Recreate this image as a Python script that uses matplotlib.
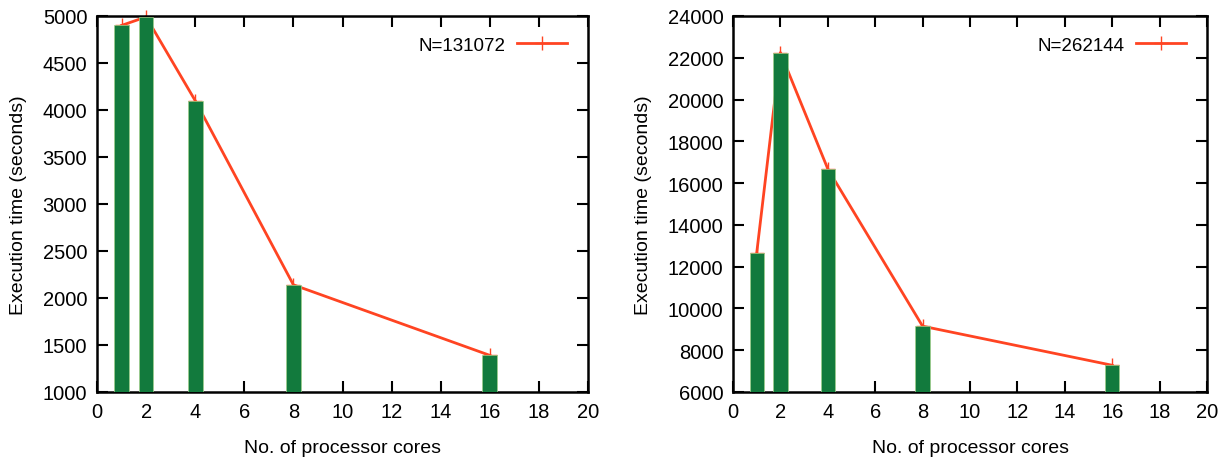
import matplotlib
matplotlib.use('Agg')
import matplotlib.pyplot as plt

plt.rcParams['font.family'] = ['Liberation Sans', 'DejaVu Sans']

cores = [1, 2, 4, 8, 16]
time_131072 = [4900, 4990, 4100, 2140, 1390]
time_262144 = [12650, 22250, 16680, 9150, 7280]

bar_color = '#127a3d'
line_color = '#ff4422'

fig = plt.figure(figsize=(12.31, 4.6), dpi=100)
ax1 = fig.add_axes([97/1231, 67/460, 491/1231, 376/460])
ax2 = fig.add_axes([733/1231, 67/460, 474/1231, 376/460])

def draw(ax, y, label, ylim, yticks):
    ax.plot(cores, y, color=line_color, lw=2.0, marker='+', ms=10, mew=1.0,
            label=label, zorder=2, clip_on=False)
    ax.bar(cores, [v - ylim[0] for v in y], bottom=ylim[0], width=0.6,
           color=bar_color, edgecolor='#9fd08a', linewidth=0.5, zorder=3)
    ax.set_xlim(0, 20)
    ax.set_ylim(*ylim)
    ax.set_xticks(range(0, 21, 2))
    ax.set_yticks(yticks)
    ax.tick_params(direction='in', top=True, right=True, length=8, width=1.5,
                   labelsize=14.5, pad=7)
    for s in ax.spines.values():
        s.set_linewidth(1.8)
    ax.set_xlabel('No. of processor cores', fontsize=14, labelpad=13)
    ax.set_ylabel('Execution time (seconds)', fontsize=14, labelpad=11)
    ax.legend(loc='upper right', frameon=False, fontsize=13.5,
              markerfirst=False, handlelength=2.7, handletextpad=0.6,
              borderaxespad=0.5, borderpad=0.6)

draw(ax1, time_131072, 'N=131072', (1000, 5000), range(1000, 5001, 500))
draw(ax2, time_262144, 'N=262144', (6000, 24000), range(6000, 24001, 2000))

fig.savefig('out.png', dpi=100)
